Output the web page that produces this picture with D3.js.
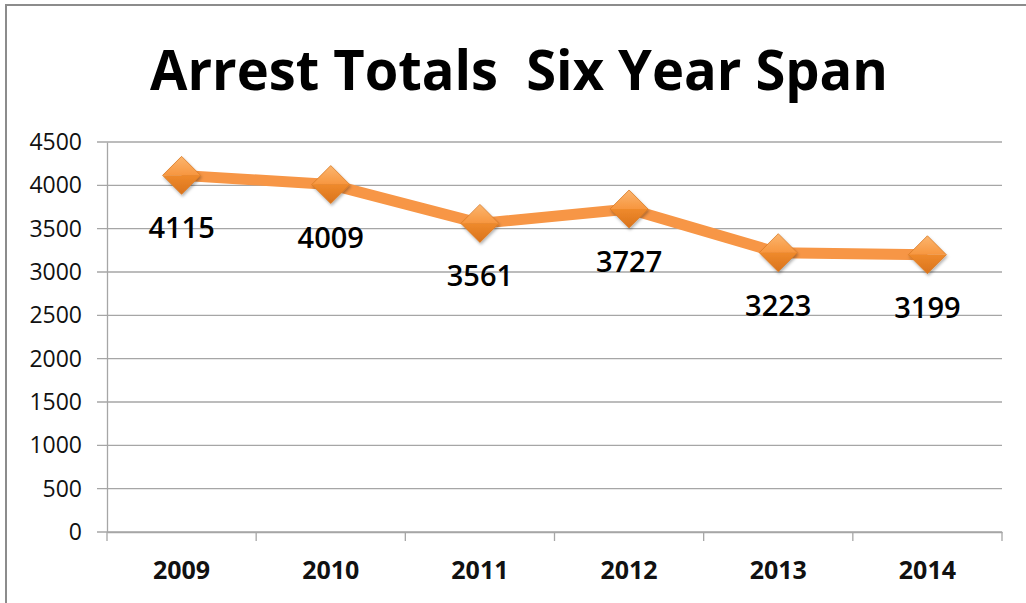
<!DOCTYPE html>
<html>
<head>
<meta charset="utf-8">
<script src="https://cdn.jsdelivr.net/npm/d3@7"></script>
<style>
  html, body { margin: 0; padding: 0; background: #fff; }
  svg { display: block; }
</style>
</head>
<body>
<svg id="chart" width="1026" height="603"></svg>
<script>
const years = ["2009", "2010", "2011", "2012", "2013", "2014"];
const arrests = [4115, 4009, 3561, 3727, 3223, 3199];
const yTicks = [0, 500, 1000, 1500, 2000, 2500, 3000, 3500, 4000, 4500];
const titleText = "Arrest Totals  Six Year Span";

(function () {
const svg = d3.select("#chart");
const pLeft = 107, pRight = 1002, pTop = 142, pBottom = 532;

// frame
svg.append("line").attr("x1", 6).attr("x2", 1026).attr("y1", 5).attr("y2", 5)
  .attr("stroke", "#8c8c8c").attr("stroke-width", 2);
svg.append("line").attr("x1", 6).attr("x2", 6).attr("y1", 4).attr("y2", 603)
  .attr("stroke", "#8c8c8c").attr("stroke-width", 2);

// title
svg.append("text").attr("x", 150).attr("y", 90)
  .attr("textLength", 738).attr("lengthAdjust", "spacingAndGlyphs")
  .attr("xml:space", "preserve").style("white-space", "pre")
  .style("font-family", "'Open Sans', sans-serif").style("font-weight", 700)
  .style("font-size", "56px").attr("fill", "#000").text(titleText);

const x = d3.scaleBand().domain(years).range([pLeft, pRight]);
const y = d3.scaleLinear().domain([0, 4500]).range([pBottom, pTop]);

// gridlines
svg.append("g").selectAll("line").data(yTicks).join("line")
  .attr("x1", pLeft - 10).attr("x2", pRight)
  .attr("y1", d => y(d)).attr("y2", d => y(d))
  .attr("stroke", "#a6a6a6").attr("stroke-width", 1.3);

// y axis
const yAxis = svg.append("g").attr("transform", `translate(${pLeft},0)`)
  .call(d3.axisLeft(y).tickValues(yTicks).tickSize(0).tickPadding(25).tickFormat(d3.format("d")));
yAxis.select(".domain").attr("stroke", "#a6a6a6").attr("stroke-width", 1.3);
yAxis.selectAll("text").style("font-family", "'Open Sans', sans-serif")
  .style("font-size", "23px").attr("fill", "#111");

// x axis
const xAxis = svg.append("g").attr("transform", `translate(0,${pBottom})`)
  .call(d3.axisBottom(x).tickSize(0).tickPadding(29));
xAxis.select(".domain").attr("stroke", "#a6a6a6").attr("stroke-width", 1.3);
xAxis.selectAll("text").style("font-family", "'Open Sans', sans-serif")
  .style("font-weight", 700).style("font-size", "25px").attr("fill", "#111");
// category boundary ticks
const bounds = years.map(d => x(d)).concat([x(years[years.length - 1]) + x.bandwidth()]);
svg.append("g").selectAll("line").data(bounds).join("line")
  .attr("x1", d => d).attr("x2", d => d).attr("y1", pBottom).attr("y2", pBottom + 9)
  .attr("stroke", "#a6a6a6").attr("stroke-width", 1.3);

const cx = d => x(d) + x.bandwidth() / 2;
const pts = years.map((yr, i) => ({ yr, v: arrests[i] }));

// line
svg.append("path").datum(pts)
  .attr("d", d3.line().x(d => cx(d.yr)).y(d => y(d.v)))
  .attr("fill", "none").attr("stroke", "#f79646").attr("stroke-width", 11)
  .attr("stroke-linejoin", "round");

// gradients for diamonds
const defs = svg.append("defs");
const gTop = defs.append("linearGradient").attr("id", "gTop").attr("x1", 0).attr("y1", 0).attr("x2", 0).attr("y2", 1);
gTop.append("stop").attr("offset", "0%").attr("stop-color", "#fbb56e");
gTop.append("stop").attr("offset", "100%").attr("stop-color", "#f7963f");
const gBot = defs.append("linearGradient").attr("id", "gBot").attr("x1", 0).attr("y1", 0).attr("x2", 0).attr("y2", 1);
gBot.append("stop").attr("offset", "0%").attr("stop-color", "#ef8a2c");
gBot.append("stop").attr("offset", "100%").attr("stop-color", "#d9731c");
const shadow = defs.append("filter").attr("id", "sh").attr("x", "-30%").attr("y", "-30%").attr("width", "160%").attr("height", "160%");
shadow.append("feDropShadow").attr("dx", 1).attr("dy", 2).attr("stdDeviation", 1.5).attr("flood-color", "#000").attr("flood-opacity", 0.3);

const r = 19;
const mk = svg.append("g").selectAll("g").data(pts).join("g")
  .attr("transform", d => `translate(${cx(d.yr)},${y(d.v)})`)
  .attr("filter", "url(#sh)");
mk.append("path").attr("d", `M${-r},0 L0,${-r} L${r},0 Z`).attr("fill", "url(#gTop)");
mk.append("path").attr("d", `M${-r},0 L${r},0 L0,${r} Z`).attr("fill", "url(#gBot)");
mk.append("path").attr("d", `M${-r},0 L0,${-r} L${r},0 L0,${r} Z`)
  .attr("fill", "none").attr("stroke", "#d97a25").attr("stroke-width", 0.8);

// data labels
svg.append("g").selectAll("text").data(pts).join("text")
  .attr("x", d => cx(d.yr)).attr("y", d => y(d.v) + 63)
  .attr("text-anchor", "middle")
  .style("font-family", "'Open Sans', sans-serif").style("font-weight", 600)
  .style("font-size", "29px").attr("fill", "#000")
  .text(d => d.v);
})();
</script>
</body>
</html>
